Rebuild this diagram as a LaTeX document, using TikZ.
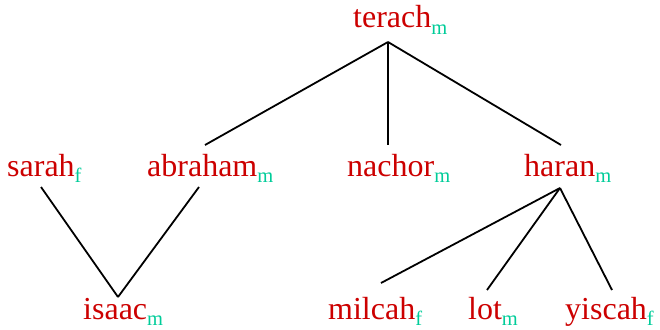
\documentclass[tikz,border=0pt]{standalone}
\usepackage{fontspec}
\setmainfont{Liberation Serif}
\usetikzlibrary{calc}
\definecolor{namered}{RGB}{204,0,0}
\definecolor{subgreen}{RGB}{0,204,153}
\newcommand{\gsub}[1]{\raisebox{-6pt}{\fontsize{20.5}{20.5}\selectfont\color{subgreen}#1}}
\tikzset{
  person/.style={anchor=base west, inner sep=0pt, text=namered, font=\fontsize{32}{32}\selectfont},
  edge/.style={draw=black, line width=1.8pt}
}
\begin{document}
\begin{tikzpicture}[x=1pt,y=1pt]
\useasboundingbox (0,0) rectangle (660,-329);
\node[person] (terach) at (353,-28) {terach\gsub{m}};
\node[person] (sarah) at (7,-176) {sarah\gsub{f}};
\node[person] (abraham) at (147,-176) {abraham\gsub{m}};
\node[person] (nachor) at (347,-176) {nachor\gsub{m}};
\node[person] (haran) at (524,-176) {haran\gsub{m}};
\node[person] (isaac) at (83,-319) {isaac\gsub{m}};
\node[person] (milcah) at (328,-319) {milcah\gsub{f}};
\node[person] (lot) at (468,-319) {lot\gsub{m}};
\node[person] (yiscah) at (565,-319) {yiscah\gsub{f}};
\draw[edge] ($(terach.base west)+(35,-14)$) -- ($(abraham.base west)+(58,31)$);
\draw[edge] ($(terach.base west)+(35,-14)$) -- ($(nachor.base west)+(41,31)$);
\draw[edge] ($(terach.base west)+(35,-14)$) -- ($(haran.base west)+(37,31)$);
\draw[edge] ($(sarah.base west)+(34,-11)$) -- ($(isaac.base west)+(35,22)$);
\draw[edge] ($(abraham.base west)+(52,-11)$) -- ($(isaac.base west)+(35,22)$);
\draw[edge] ($(haran.base west)+(36,-12)$) -- ($(milcah.base west)+(53,36)$);
\draw[edge] ($(haran.base west)+(36,-12)$) -- ($(lot.base west)+(19,29)$);
\draw[edge] ($(haran.base west)+(36,-12)$) -- ($(yiscah.base west)+(47,29)$);
\end{tikzpicture}
\end{document}
